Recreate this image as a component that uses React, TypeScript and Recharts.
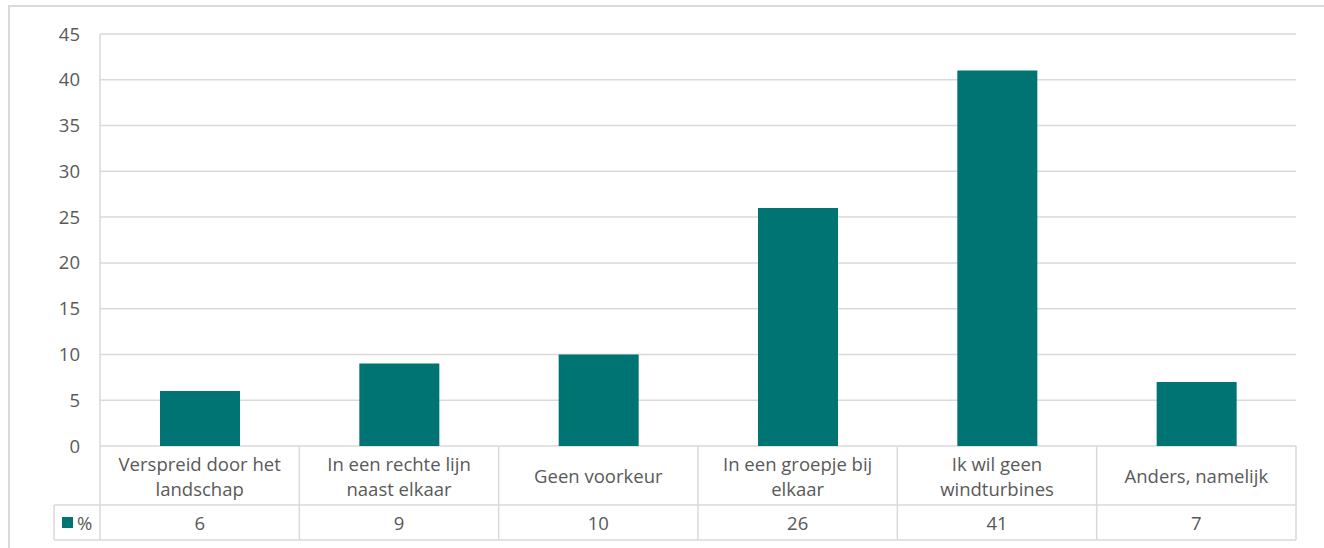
import React from "react";
import { BarChart, Bar, XAxis, YAxis, CartesianGrid } from "recharts";

const categories = [
  "Verspreid door het landschap",
  "In een rechte lijn naast elkaar",
  "Geen voorkeur",
  "In een groepje bij elkaar",
  "Ik wil geen windturbines",
  "Anders, namelijk",
];
const percentages = [6, 9, 10, 26, 41, 7];
const yTicks = [0, 5, 10, 15, 20, 25, 30, 35, 40, 45];
const seriesName = "%";

const data = categories.map((c, i) => ({ name: c, value: percentages[i] }));

const W = 1324;
const H = 548;
const PLOT_LEFT = 100;
const PLOT_RIGHT = 1296;
const PLOT_TOP = 34;
const PLOT_BOTTOM = 446;
const ROW_SPLIT = 505;
const TABLE_BOTTOM = 540;
const HALF = (PLOT_RIGHT - PLOT_LEFT) / categories.length / 2;
const GRID = "#d9d9d9";
const TEXT = "#595959";
const BAR = "#007373";
const FONT = "'Open Sans', sans-serif";
const FS = 18.5;

function wrap(s: string, max: number): string[] {
  const words = s.split(" ");
  const lines: string[] = [];
  let cur = "";
  for (const w of words) {
    const t = cur ? cur + " " + w : w;
    if (t.length > max && cur) {
      lines.push(cur);
      cur = w;
    } else cur = t;
  }
  if (cur) lines.push(cur);
  return lines;
}

const TableTick = (props: any) => {
  const { x, payload, index } = props;
  const lines = wrap(String(payload.value), 18);
  const mid = (PLOT_BOTTOM + ROW_SPLIT) / 2;
  const lh = 25;
  const start = mid - ((lines.length - 1) * lh) / 2;
  const val = percentages[index];
  return (
    <g>
      <line x1={x + HALF} x2={x + HALF} y1={PLOT_BOTTOM} y2={TABLE_BOTTOM} stroke={GRID} strokeWidth={1.5} />
      {index === 0 && (
        <g>
          <line x1={x - HALF} x2={x - HALF} y1={PLOT_BOTTOM} y2={TABLE_BOTTOM} stroke={GRID} strokeWidth={1.5} />
          <line x1={54} x2={x - HALF} y1={ROW_SPLIT} y2={ROW_SPLIT} stroke={GRID} strokeWidth={1.5} />
          <line x1={54} x2={x - HALF} y1={TABLE_BOTTOM} y2={TABLE_BOTTOM} stroke={GRID} strokeWidth={1.5} />
          <line x1={54} x2={54} y1={ROW_SPLIT} y2={TABLE_BOTTOM} stroke={GRID} strokeWidth={1.5} />
          <rect x={62} y={517} width={11} height={11} fill={BAR} />
          <text x={77} y={522} dominantBaseline="central" fontSize={FS} fill={TEXT} fontFamily={FONT}>
            {seriesName}
          </text>
        </g>
      )}
      <line x1={x - HALF} x2={x + HALF} y1={ROW_SPLIT} y2={ROW_SPLIT} stroke={GRID} strokeWidth={1.5} />
      <line x1={x - HALF} x2={x + HALF} y1={TABLE_BOTTOM} y2={TABLE_BOTTOM} stroke={GRID} strokeWidth={1.5} />
      {lines.map((l, i) => (
        <text
          key={i}
          x={x}
          y={start + i * lh}
          textAnchor="middle"
          dominantBaseline="central"
          fontSize={FS}
          fill={TEXT}
          fontFamily={FONT}
        >
          {l}
        </text>
      ))}
      <text
        x={x}
        y={(ROW_SPLIT + TABLE_BOTTOM) / 2}
        textAnchor="middle"
        dominantBaseline="central"
        fontSize={FS}
        fill={TEXT}
        fontFamily={FONT}
      >
        {val}
      </text>
    </g>
  );
};

export default function App() {
  return (
    <div style={{ position: "absolute", left: 0, top: 0, width: W, height: H, background: "#fff", overflow: "hidden" }}>
      <div style={{ position: "absolute", left: 0, top: 0 }}>
        <BarChart
          width={W}
          height={H}
          data={data}
          margin={{ top: PLOT_TOP, right: W - PLOT_RIGHT, bottom: 0, left: 40 }}
          barCategoryGap={0}
        >
          <CartesianGrid vertical={false} stroke={GRID} strokeWidth={1.5} />
          <YAxis
            width={60}
            domain={[0, 45]}
            ticks={yTicks}
            interval={0}
            axisLine={{ stroke: GRID, strokeWidth: 1.5 }}
            tickLine={false}
            tickSize={0}
            tickMargin={20}
            tick={{ fill: TEXT, fontSize: FS, fontFamily: FONT }}
          />
          <XAxis
            dataKey="name"
            height={H - PLOT_BOTTOM}
            axisLine={false}
            tickLine={false}
            tickSize={0}
            tickMargin={0}
            interval={0}
            tick={<TableTick />}
          />
          <Bar dataKey="value" fill={BAR} barSize={80} isAnimationActive={false} />
        </BarChart>
      </div>
      <div
        style={{
          position: "absolute",
          left: 8,
          top: 5,
          width: W,
          height: H,
          borderLeft: `2px solid ${GRID}`,
          borderTop: `2px solid ${GRID}`,
          boxSizing: "border-box",
          pointerEvents: "none",
        }}
      />
    </div>
  );
}
